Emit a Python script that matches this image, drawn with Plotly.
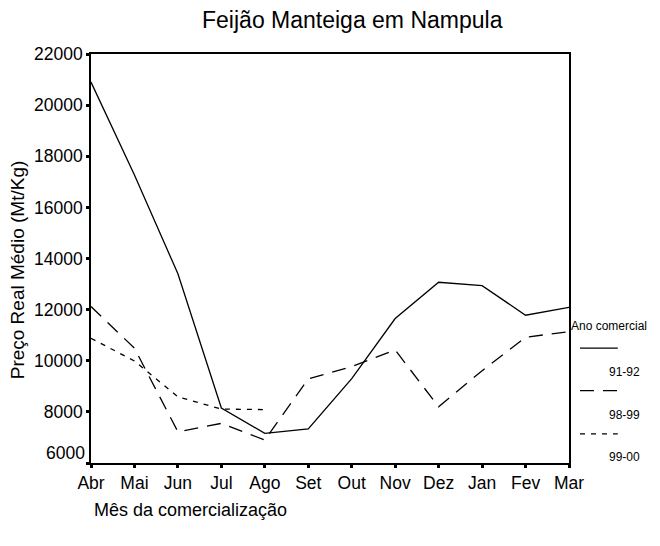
import plotly.graph_objects as go

months = ["Abr", "Mai", "Jun", "Jul", "Ago", "Set", "Out", "Nov", "Dez", "Jan", "Fev", "Mar"]

# Preço real médio (Mt/Kg) por ano comercial
preco_91_92 = [20900, 17270, 13400, 8150, 7160, 7330, 9300, 11650, 13070, 12940, 11780, 12090]
preco_98_99 = [12120, 10490, 7220, 7550, 6900, 9290, 9770, 10420, 8200, 9610, 10920, 11140]
preco_99_00 = [10880, 9990, 8590, 8110, 8090, None, None, None, None, None, None, None]

y_ticks = [6000, 8000, 10000, 12000, 14000, 16000, 18000, 20000, 22000]
y_ticktext = ["", "8000", "10000", "12000", "14000", "16000", "18000", "20000", "22000"]

series = [
    ("91-92", preco_91_92, "solid"),
    ("98-99", preco_98_99, "14px,9px"),
    ("99-00", preco_99_00, "5px,6px"),
]

FONT = "Liberation Sans, Arial, sans-serif"

# the page body adds an 8px margin, so the figure is a bit smaller than the window
fig = go.Figure()

for name, values, dash in series:
    fig.add_trace(go.Scatter(
        x=months,
        y=values,
        mode="lines",
        line={"color": "black", "width": 1.3, "dash": dash},
        name=name,
        connectgaps=False,
        showlegend=False,
    ))

# Custom legend: line sample above its label, right of the plot
fig.add_annotation(
    x=1.167, y=0.335, xref="paper", yref="paper",
    text="Ano comercial", showarrow=False, xanchor="right", yanchor="middle",
    font={"size": 12, "color": "black", "family": FONT},
)
legend_y = [0.281, 0.177, 0.071]
label_y = [0.223, 0.117, 0.015]
for (name, _, dash), ly, ty in zip(series, legend_y, label_y):
    fig.add_shape(
        type="line", xref="paper", yref="paper",
        x0=1.023, x1=1.102, y0=ly, y1=ly,
        line={"color": "black", "width": 1.3, "dash": dash},
    )
    fig.add_annotation(
        x=1.116, y=ty, xref="paper", yref="paper",
        text=name, showarrow=False, xanchor="center", yanchor="middle",
        font={"size": 12, "color": "black", "family": FONT},
    )

# lowest tick label sits a little above the axis
fig.add_annotation(
    x=-0.009, y=0.025, xref="paper", yref="paper",
    text=str(y_ticks[0]), showarrow=False, xanchor="right", yanchor="middle",
    font={"size": 17.5, "color": "black", "family": FONT},
)

# axis titles
fig.add_annotation(
    x=0.002, y=-0.115, xref="paper", yref="paper",
    text="Mês da comercialização", showarrow=False,
    xanchor="left", yanchor="middle",
    font={"size": 18, "color": "black", "family": FONT},
)
fig.add_annotation(
    x=-0.152, y=0.472, xref="paper", yref="paper",
    text="Preço Real Médio (Mt/Kg)", showarrow=False, textangle=-90,
    xanchor="center", yanchor="middle",
    font={"size": 19, "color": "black", "family": FONT},
)

fig.update_layout(
    width=652,
    height=530,
    margin={"l": 83, "r": 91, "t": 46, "b": 75},
    paper_bgcolor="white",
    plot_bgcolor="white",
    font={"family": FONT, "color": "black"},
    title={
        "text": "Feijão Manteiga em Nampula",
        "x": 0.528, "xanchor": "center", "y": 0.977, "yanchor": "middle",
        "font": {"size": 23, "color": "black", "family": FONT},
    },
)

fig.update_xaxes(
    type="category",
    range=[0, 11],
    automargin=False,
    showgrid=False,
    zeroline=False,
    showline=True,
    linecolor="black",
    linewidth=1.6,
    mirror=True,
    ticks="outside",
    ticklen=3,
    tickwidth=3,
    tickcolor="black",
    tickfont={"size": 17.5, "color": "black", "family": FONT},
)

fig.update_yaxes(
    range=[6000, 22000],
    tickvals=y_ticks,
    ticktext=y_ticktext,
    automargin=False,
    showgrid=False,
    zeroline=False,
    showline=True,
    linecolor="black",
    linewidth=1.6,
    mirror=True,
    ticks="outside",
    ticklen=3,
    tickwidth=3,
    tickcolor="black",
    tickfont={"size": 17.5, "color": "black", "family": FONT},
)

fig.write_html("out.html")
